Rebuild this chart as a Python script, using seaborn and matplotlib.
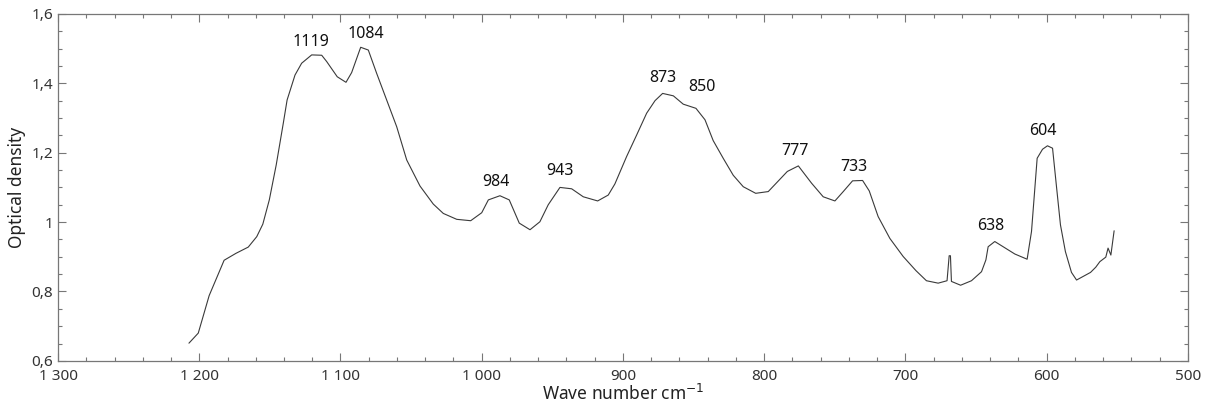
import numpy as np
import pandas as pd
import seaborn as sns
import matplotlib.pyplot as plt
from matplotlib.ticker import MultipleLocator, FuncFormatter

# spectrum
wave_number = [1207.3, 1200.7, 1193.0, 1182.4, 1174.0, 1165.3, 1159.3, 1155.0, 1150.4, 1145.5,
               1140.5, 1137.8, 1132.2, 1127.5, 1120.4, 1113.3, 1109.8, 1102.3, 1096.1, 1092.1,
               1085.7, 1080.3, 1074.4, 1067.3, 1060.2, 1053.1, 1043.7, 1034.3, 1027.2, 1017.7,
               1007.8, 1000.0, 995.3, 987.1, 980.5, 973.4, 965.8, 958.8, 952.9, 944.6,
               936.3, 928.1, 917.9, 910.4, 905.7, 897.4, 890.3, 883.2, 877.3, 871.9,
               864.3, 857.3, 848.3, 841.9, 836.1, 829.0, 821.9, 814.8, 806.0, 797.1,
               783.6, 775.8, 766.4, 758.2, 749.9, 744.0, 737.4, 730.3, 725.6, 719.3,
               711.0, 701.6, 692.5, 685.1, 676.8, 670.5, 669.0, 668.1, 667.4, 660.9,
               653.2, 646.1, 643.0, 641.4, 636.7, 622.5, 613.8, 610.7, 608.8, 606.7,
               602.9, 599.4, 595.8, 593.0, 590.2, 586.7, 582.4, 578.8, 568.9, 565.2,
               562.3, 558.1, 556.5, 554.5, 552.2]
optical_density = [0.651, 0.680, 0.788, 0.890, 0.910, 0.928, 0.958, 0.994, 1.064, 1.165,
                   1.285, 1.352, 1.424, 1.458, 1.482, 1.481, 1.463, 1.419, 1.403, 1.431,
                   1.504, 1.496, 1.429, 1.352, 1.275, 1.179, 1.104, 1.052, 1.025, 1.008,
                   1.004, 1.027, 1.064, 1.076, 1.064, 0.997, 0.978, 1.001, 1.050, 1.100,
                   1.096, 1.073, 1.061, 1.078, 1.110, 1.189, 1.251, 1.314, 1.350, 1.371,
                   1.364, 1.340, 1.328, 1.295, 1.235, 1.184, 1.135, 1.102, 1.083, 1.088,
                   1.146, 1.162, 1.112, 1.073, 1.061, 1.088, 1.119, 1.120, 1.090, 1.016,
                   0.953, 0.901, 0.860, 0.831, 0.824, 0.831, 0.903, 0.903, 0.829, 0.818,
                   0.831, 0.857, 0.891, 0.929, 0.944, 0.908, 0.893, 0.973, 1.073, 1.184,
                   1.210, 1.220, 1.213, 1.102, 0.992, 0.915, 0.855, 0.833, 0.855, 0.870,
                   0.886, 0.899, 0.925, 0.905, 0.975]

# peak labels and where their text sits
peak_labels = ["1119", "1084", "984", "943", "873", "850", "777", "733", "638", "604"]
label_x = [1121, 1082, 990, 944.6, 872, 844.3, 778, 736.5, 639.5, 602.4]
label_y = [1.520, 1.542, 1.116, 1.148, 1.416, 1.389, 1.206, 1.160, 0.990, 1.263]

df = pd.DataFrame({"wn": wave_number, "od": optical_density})

sns.set_style("ticks")
plt.rcParams["font.family"] = ["Noto Sans", "DejaVu Sans"]

fig = plt.figure(figsize=(12.09, 4.05), dpi=100)
ax = fig.add_axes([0.048, 0.109, 0.9345, 0.8565])

sns.lineplot(data=df, x="wn", y="od", ax=ax, color="#3a3a3a", linewidth=0.8, sort=False)

for txt, x, y in zip(peak_labels, label_x, label_y):
    ax.text(x, y, txt, ha="center", va="center", fontsize=11.5, color="#111111")

ax.set_xlim(1300, 500)
ax.set_ylim(0.6, 1.6)
ax.xaxis.set_major_locator(MultipleLocator(100))
ax.xaxis.set_minor_locator(MultipleLocator(20))
ax.yaxis.set_major_locator(MultipleLocator(0.2))
ax.yaxis.set_minor_locator(MultipleLocator(0.05))
ax.xaxis.set_major_formatter(FuncFormatter(lambda v, p: f"{int(round(v)):,}".replace(",", " ")))
ax.yaxis.set_major_formatter(FuncFormatter(lambda v, p: f"{v:g}".replace(".", ",")))

ax.tick_params(which="both", direction="in", top=True, right=True,
               colors="#777777", labelcolor="#333333", labelsize=11)
ax.tick_params(which="major", length=6, width=0.8)
ax.tick_params(which="minor", length=3, width=0.8)
ax.tick_params(axis="x", which="major", pad=6)
for s in ax.spines.values():
    s.set_color("#777777")
    s.set_linewidth(0.9)

ax.set_xlabel("Wave number cm$^{-1}$", fontsize=12.5, color="#222222", labelpad=0)
ax.set_ylabel("Optical density", fontsize=12.5, color="#222222", labelpad=4)

fig.savefig("out.png", dpi=100)
